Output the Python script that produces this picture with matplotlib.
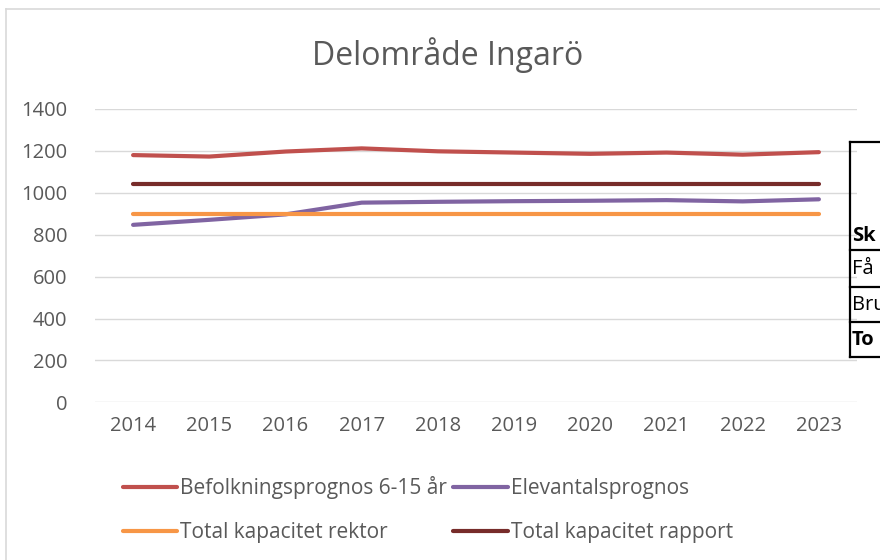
import matplotlib.pyplot as plt
from matplotlib.lines import Line2D

# Data
years = ['2014', '2015', '2016', '2017', '2018', '2019', '2020', '2021', '2022', '2023']
befolkning = [1180, 1173, 1197, 1212, 1198, 1192, 1186, 1192, 1182, 1194]
elevantal = [847, 871, 897, 953, 957, 960, 962, 965, 959, 969]
kap_rektor = [900] * 10
kap_rapport = [1040] * 10

series_labels = ['Befolkningsprognos 6-15 år', 'Elevantalsprognos',
                 'Total kapacitet rektor', 'Total kapacitet rapport']
table_rows = ['Sk', 'Få', 'Bru', 'To']

plt.rcParams['font.family'] = ['Open Sans', 'DejaVu Sans']
gray = '#595959'

W, H = 880, 560
fig = plt.figure(figsize=(8.8, 5.6), dpi=100)

def fx(px):
    return px / W

def fy(py):
    return 1 - py / H

# plot area
ax = fig.add_axes([fx(95), fy(402.3), fx(857) - fx(95), fy(109) - fy(402.3)])
x = range(len(years))
l1, = ax.plot(x, befolkning, color='#C0504D', lw=3, solid_capstyle='round')
l2, = ax.plot(x, elevantal, color='#8064A2', lw=3, solid_capstyle='round')
l3, = ax.plot(x, kap_rektor, color='#F79646', lw=3, solid_capstyle='round')
l4, = ax.plot(x, kap_rapport, color='#772C2A', lw=3, solid_capstyle='round')

ax.set_xlim(-0.5, len(years) - 0.5)
ax.set_ylim(0, 1400)
ax.set_yticks(range(0, 1401, 200))
ax.set_xticks(list(x))
ax.set_xticklabels(years)
ax.grid(axis='y', color='#D9D9D9', lw=1)
ax.set_axisbelow(True)
for s in ax.spines.values():
    s.set_visible(False)
ax.tick_params(length=0, labelsize=14.5, colors=gray, pad=10)
ax.tick_params(axis='y', pad=20)

fig.text(fx(448), fy(55), 'Delområde Ingarö', ha='center', va='center',
         fontsize=23, color=gray)

# legend: two rows, two columns
fig.legend([l1, l3, l2, l4],
           [series_labels[0], series_labels[2], series_labels[1], series_labels[3]],
           ncol=2, loc='upper left', bbox_to_anchor=(fx(123), fy(476)),
           frameon=False, fontsize=15, labelcolor=gray,
           handlelength=2.6, handletextpad=0.15, columnspacing=0.3,
           labelspacing=1.1, borderaxespad=0, borderpad=0)

# chart border (light gray)
fig.add_artist(Line2D([fx(6), fx(6)], [fy(9), 0], color='#D9D9D9', lw=1.2))
fig.add_artist(Line2D([fx(6), 1], [fy(9), fy(9)], color='#D9D9D9', lw=1.2))

# partly visible table on the right edge
tx = fx(850)
fig.add_artist(Line2D([tx, tx], [fy(142), fy(357)], color='black', lw=1.6))
for yy in [142, 250, 287, 322, 357]:
    fig.add_artist(Line2D([tx, 1], [fy(yy), fy(yy)], color='black', lw=1.6))
row_mid = [236, 269, 305, 340]
for txt, ym, bold in zip(table_rows, row_mid, [True, False, False, True]):
    fig.text(fx(852), fy(ym), txt, ha='left', va='center', fontsize=14.5,
             color='black', fontweight='bold' if bold else 'normal')

fig.savefig('out.png', dpi=100)
